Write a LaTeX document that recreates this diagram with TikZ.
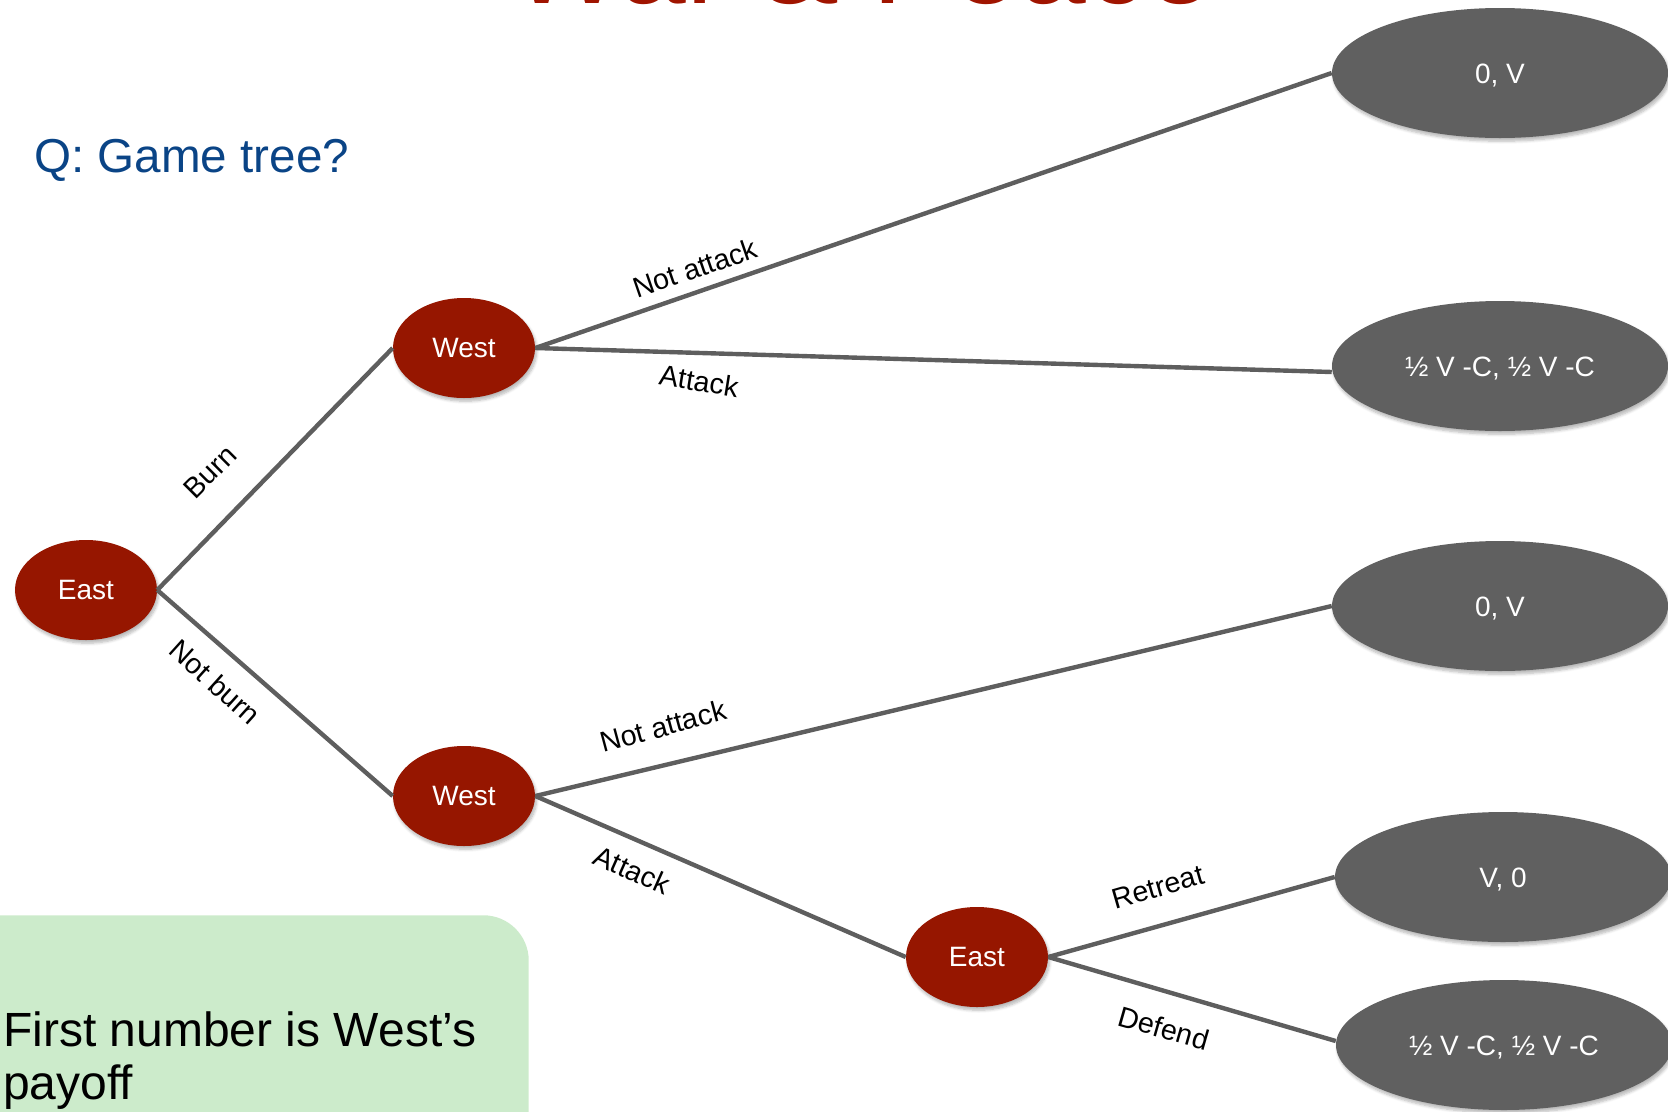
\documentclass[tikz,border=0pt]{standalone}
\usepackage{fontspec}
\setmainfont{Liberation Sans}
\usetikzlibrary{shapes.geometric,shadows.blur}

\definecolor{nodered}{RGB}{150,22,0}
\definecolor{leafgray}{RGB}{96,96,96}
\definecolor{edgegray}{RGB}{94,94,94}
\definecolor{notegreen}{RGB}{204,235,203}
\definecolor{qblue}{RGB}{10,68,134}
\definecolor{titlered}{RGB}{160,20,0}

\begin{document}
\begin{tikzpicture}[x=0.75pt,y=-0.75pt,
  softshadow/.style={blur shadow={shadow xshift=1.2pt, shadow yshift=-2.4pt, shadow blur steps=6, shadow opacity=28}},
  player/.style={ellipse, fill=nodered, text=white, minimum width=106.5pt,
    minimum height=75pt, inner sep=0pt, font=\fontsize{21}{25}\selectfont, softshadow},
  payoff/.style={ellipse, fill=leafgray, text=white, minimum width=252pt,
    minimum height=97.5pt, inner sep=0pt, text height=15pt, text depth=0pt,
    font=\fontsize{21}{25}\selectfont, softshadow},
  branch/.style={draw=edgegray, line width=3.3pt},
  move/.style={font=\fontsize{21.5}{25}\selectfont, inner sep=0pt}
]
\useasboundingbox (0,0) rectangle (1668,1111);
\clip (0,0) rectangle (1668,1111);

% heading, mostly above the page
\node[anchor=base, font=\fontsize{90}{94}\selectfont, text=titlered] (title) at (862,3) {War \& Peace};

% question
\node[anchor=base west, font=\fontsize{35.7}{40}\selectfont, text=qblue, inner sep=0pt] (question) at (34,172) {Q: Game tree?};

% note box
\node[fill=notegreen, rounded corners=34pt, minimum width=460pt, minimum height=240pt,
  anchor=north east, inner sep=0pt] (note) at (529,915) {};
\node[anchor=base west, inner sep=0pt, font=\fontsize{36}{40}\selectfont] (noteA) at (3,1046)
  {First number is West’s};
\node[anchor=base west, inner sep=0pt, font=\fontsize{36}{40}\selectfont] (noteB) at (3,1099)
  {payoff};

% decision nodes
\node[player] (east)  at (86,590)  {East};
\node[player] (westA) at (464,348) {West};
\node[player] (westB) at (464,796) {West};
\node[player] (east2) at (977,957) {East};

% terminal payoffs
\node[payoff] (p1) at (1500,73)   {0, V};
\node[payoff] (p2) at (1500,366)  {½ V -C, ½ V -C};
\node[payoff] (p3) at (1500,606)  {0, V};
\node[payoff] (p4) at (1503,877)  {V, 0};
\node[payoff] (p5) at (1504,1045) {½ V -C, ½ V -C};

% branches
\draw[branch] (east.east) -- (westA.west);
\draw[branch] (east.east) -- (westB.west);
\draw[branch] (westA.east) -- (p1.west);
\draw[branch] (westA.east) -- ([yshift=-4.5pt]p2.west);
\draw[branch] (westB.east) -- (p3.west);
\draw[branch] (westB.east) -- (east2.west);
\draw[branch] (east2.east) -- (p4.west);
\draw[branch] (east2.east) -- ([yshift=3pt]p5.west);

% move labels
\node[move, rotate=45]  (lburn)   at (210,472) {Burn};
\node[move, rotate=-42] (lnburn)  at (215,682) {Not burn};
\node[move, rotate=19]  (lna1)    at (695,268) {Not attack};
\node[move, rotate=-9]  (la1)     at (699,381) {Attack};
\node[move, rotate=15]  (lna2)    at (663,726) {Not attack};
\node[move, rotate=-24] (la2)     at (632,870) {Attack};
\node[move, rotate=16]  (lret)    at (1158,887) {Retreat};
\node[move, rotate=-16] (ldef)    at (1164,1028) {Defend};
\end{tikzpicture}
\end{document}
